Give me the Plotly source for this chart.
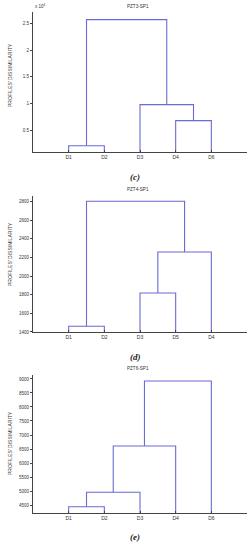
import plotly.graph_objects as go

# ---------------- data ----------------
c_title = "PZT3-SP1"
c_leaves = ["D1", "D2", "D3", "D4", "D6"]
c_pairs = [("D1", "D2"), ("D4", "D6"), ("D3", "L2"), ("L1", "L3")]
c_heights = [2100, 6800, 9800, 25700]
c_ticks = [5000, 10000, 15000, 20000, 25000]
c_ticktext = ["0.5", "1", "1.5", "2", "2.5"]

d_title = "PZT4-SP1"
d_leaves = ["D1", "D2", "D3", "D5", "D4"]
d_pairs = [("D1", "D2"), ("D3", "D5"), ("L2", "D4"), ("L1", "L3")]
d_heights = [1461, 1818, 2258, 2804]
d_ticks = [1400, 1600, 1800, 2000, 2200, 2400, 2600, 2800]
d_ticktext = [str(v) for v in d_ticks]

e_title = "PZT6-SP1"
e_leaves = ["D1", "D2", "D3", "D4", "D6"]
e_pairs = [("D1", "D2"), ("L1", "D3"), ("L2", "D4"), ("L3", "D6")]
e_heights = [4440, 4954, 6607, 8929]
e_ticks = [4500, 5000, 5500, 6000, 6500, 7000, 7500, 8000, 8500, 9000]
e_ticktext = [str(v) for v in e_ticks]

panel_labels = ["(c)", "(d)", "(e)"]
ytitle = "PROFILES' DISSIMILARITY"

# ---------------- layout constants ----------------
W, H = 252, 550
LINE = "#6a6ad8"
AX = "#444444"
TXT = "#333333"
SANS = "Liberation Sans"

panels = [
    dict(title=c_title, leaves=c_leaves, pairs=c_pairs, heights=c_heights,
         ticks=c_ticks, ticktext=c_ticktext, top=11.6, bot=152.3, yr=[870, 27200],
         title_y=7, label_y=177, ytitle_y=75),
    dict(title=d_title, leaves=d_leaves, pairs=d_pairs, heights=d_heights,
         ticks=d_ticks, ticktext=d_ticktext, top=195.5, bot=332.3, yr=[1396, 2865],
         title_y=189, label_y=357, ytitle_y=254),
    dict(title=e_title, leaves=e_leaves, pairs=e_pairs, heights=e_heights,
         ticks=e_ticks, ticktext=e_ticktext, top=374.7, bot=513.3, yr=[4204, 9153],
         title_y=368, label_y=537, ytitle_y=443),
]

X0, X1 = 33, 247

fig = go.Figure()
annotations = []

for i, p in enumerate(panels):
    n = i + 1
    xa = "x" if n == 1 else f"x{n}"
    ya = "y" if n == 1 else f"y{n}"
    pos = {name: k + 1 for k, name in enumerate(p["leaves"])}
    hgt = {name: 0 for name in p["leaves"]}
    for k, ((a, b), h) in enumerate(zip(p["pairs"], p["heights"])):
        fig.add_trace(go.Scatter(
            x=[pos[a], pos[a], pos[b], pos[b]],
            y=[hgt[a], h, h, hgt[b]],
            mode="lines", line=dict(color=LINE, width=1.1),
            xaxis=xa, yaxis=ya, showlegend=False, hoverinfo="skip"))
        name = f"L{k + 1}"
        pos[name] = (pos[a] + pos[b]) / 2
        hgt[name] = h

    dom_y = [1 - p["bot"] / H, 1 - p["top"] / H]
    xkey = "xaxis" if n == 1 else f"xaxis{n}"
    ykey = "yaxis" if n == 1 else f"yaxis{n}"
    fig.update_layout(**{
        xkey: dict(domain=[X0 / W, X1 / W], range=[0, 6], anchor=ya,
                   automargin=False,
                   tickvals=list(range(1, len(p["leaves"]) + 1)),
                   ticktext=p["leaves"], showline=True, linecolor=AX,
                   linewidth=1, showgrid=False, zeroline=False,
                   ticks="inside", ticklen=2, tickcolor=AX,
                   tickfont=dict(family=SANS, size=5, color=TXT)),
        ykey: dict(domain=dom_y, range=p["yr"], anchor=xa,
                   automargin=False,
                   tickvals=p["ticks"], ticktext=p["ticktext"],
                   showline=True, linecolor=AX, linewidth=1,
                   showgrid=False, zeroline=False,
                   ticks="outside", ticklen=2, tickcolor=AX,
                   tickfont=dict(family=SANS, size=4.5, color=TXT)),
    })

    annotations.append(dict(text=p["title"], x=138 / W, y=1 - p["title_y"] / H,
                            xref="paper", yref="paper", showarrow=False,
                            xanchor="center", yanchor="middle",
                            font=dict(family=SANS, size=4.6, color=TXT)))
    annotations.append(dict(text=f"<b><i>{panel_labels[i]}</i></b>",
                            x=135 / W, y=1 - p["label_y"] / H,
                            xref="paper", yref="paper", showarrow=False,
                            xanchor="center", yanchor="middle",
                            font=dict(family="Liberation Serif", size=9, color="#222222")))
    annotations.append(dict(text=ytitle, x=10 / W, y=1 - p["ytitle_y"] / H,
                            xref="paper", yref="paper", showarrow=False,
                            textangle=-90, xanchor="center", yanchor="middle",
                            font=dict(family=SANS, size=5, color=TXT)))

annotations.append(dict(text="x 10<sup>4</sup>", x=X0 / W, y=1 - 11 / H,
                        xref="paper", yref="paper", showarrow=False,
                        xanchor="left", yanchor="bottom",
                        font=dict(family=SANS, size=4.5, color=TXT)))

fig.update_layout(width=W, height=H, margin=dict(l=0, r=0, t=0, b=0),
                  paper_bgcolor="white", plot_bgcolor="white",
                  annotations=annotations)

fig.write_html("out.html",
               config={"displayModeBar": False, "staticPlot": True},
               post_script="document.body.style.margin='0';"
                           "document.body.style.padding='0';"
                           "document.body.style.overflow='hidden';")
